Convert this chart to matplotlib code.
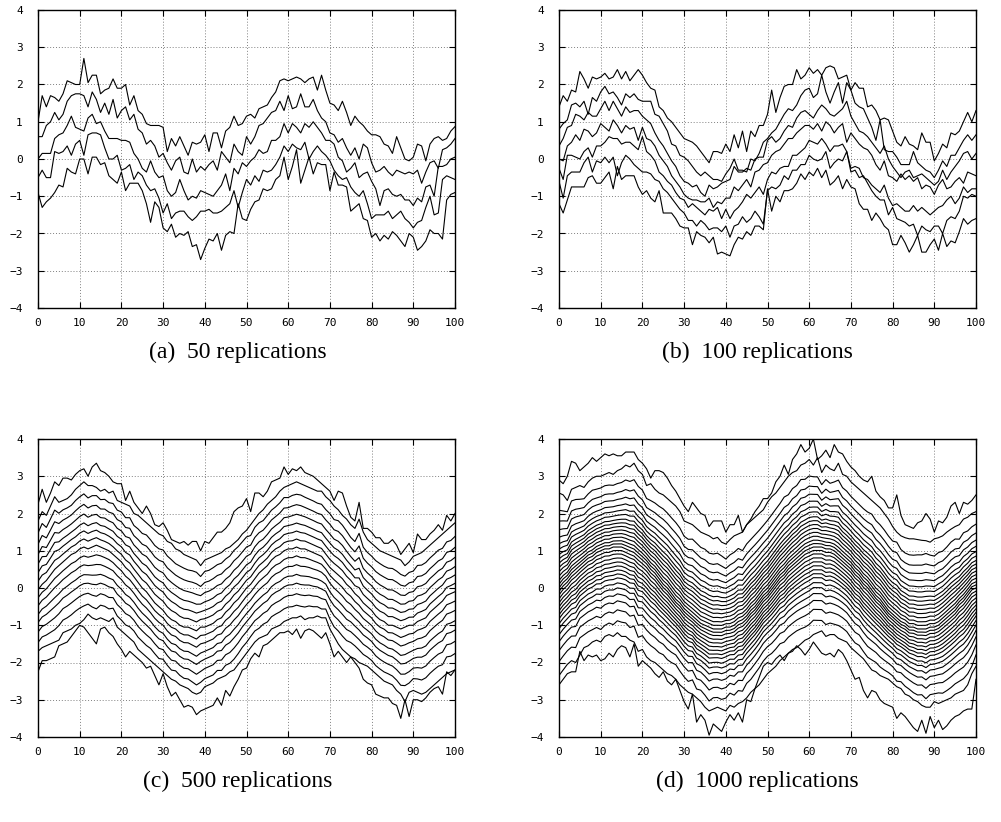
import numpy as np
import matplotlib
matplotlib.use("Agg")
from matplotlib import pyplot as plt

# ---- panel (a) 50 replications: five traces ----
a_line1 = [1.0, 1.7, 1.4, 1.7, 1.65, 1.55, 1.75, 2.1, 2.05, 2.0,
           2.0, 2.7, 2.05, 2.25, 2.25, 1.75, 1.85, 1.9, 2.15, 1.9,
           1.9, 2.0, 1.45, 1.7, 1.3, 1.2, 0.95, 0.9, 0.9, 0.9,
           0.85, 0.2, 0.55, 0.35, 0.6, 0.35, 0.1, 0.45, 0.4, 0.45,
           0.65, 0.2, 0.7, 0.7, 0.3, 0.75, 0.85, 1.15, 0.9, 0.95,
           1.15, 1.2, 1.1, 1.35, 1.4, 1.45, 1.65, 1.8, 2.1, 2.15,
           2.1, 2.15, 2.2, 2.15, 2.05, 2.15, 2.2, 1.85, 2.25, 1.85,
           1.5, 1.45, 1.3, 1.55, 1.25, 0.9, 1.15, 1.0, 0.9, 0.75,
           0.65, 0.65, 0.6, 0.4, 0.35, 0.15, 0.6, 0.3, 0.0, -0.05,
           0.05, 0.4, 0.35, -0.05, 0.4, 0.55, 0.6, 0.5, 0.55, 0.75,
           0.87]
a_line2 = [0.6, 0.6, 0.9, 1.0, 1.25, 1.05, 1.2, 1.55, 1.7, 1.75,
           1.75, 1.7, 1.4, 1.8, 1.6, 1.25, 1.5, 1.2, 1.6, 1.1,
           1.3, 1.4, 1.05, 1.2, 0.8, 0.7, 0.4, 0.5, 0.35, 0.05,
           0.15, -0.1, -0.3, -0.05, 0.05, -0.35, -0.4, 0.0, -0.35, -0.2,
           -0.3, -0.15, -0.05, -0.3, 0.2, 0.05, -0.1, 0.4, 0.2, 0.1,
           0.6, 0.4, 0.6, 0.9, 0.95, 1.1, 1.25, 1.3, 1.55, 1.3,
           1.7, 1.35, 1.4, 1.75, 1.4, 1.4, 1.6, 1.3, 1.1, 1.0,
           0.7, 0.65, 0.45, 0.55, 0.3, 0.1, 0.3, 0.0, 0.4, 0.3,
           -0.1, -0.35, -0.3, -0.2, -0.35, -0.45, -0.3, -0.35, -0.4, -0.35,
           -0.4, -0.3, -0.65, -0.35, -0.1, -0.05, -0.25, 0.25, 0.3, 0.4,
           0.55]
a_line3 = [0.0, 0.15, 0.15, 0.15, 0.55, 0.65, 0.7, 0.9, 1.15, 0.85,
           0.8, 0.75, 1.1, 1.2, 0.95, 1.0, 0.75, 0.55, 0.55, 0.55,
           0.5, 0.5, 0.45, 0.15, 0.0, -0.25, -0.35, -0.05, -0.35, -0.5,
           -0.45, -0.85, -1.0, -0.9, -0.55, -0.85, -1.1, -1.0, -1.05, -0.85,
           -0.9, -0.95, -1.0, -0.85, -0.7, -0.4, -0.85, -0.25, -0.4, -0.1,
           -0.2, -0.05, 0.05, 0.25, 0.15, 0.2, 0.5, 0.5, 0.6, 0.95,
           0.7, 0.95, 0.85, 0.7, 0.95, 0.85, 1.0, 0.85, 0.7, 0.5,
           0.5, 0.4, 0.05, -0.05, -0.35, -0.25, -0.1, -0.5, -0.4, -0.35,
           -0.6, -0.8, -1.25, -0.85, -0.8, -0.95, -1.0, -0.95, -1.1, -1.1,
           -1.25, -1.05, -1.15, -0.75, -0.7, -1.0, -0.2, -0.2, -0.15, 0.0,
           0.05]
a_line4 = [-0.5, -0.3, -0.5, -0.5, 0.2, 0.15, 0.2, 0.35, 0.1, 0.4,
           0.5, 0.1, 0.65, 0.7, 0.7, 0.65, 0.3, 0.0, 0.0, 0.1,
           -0.3, -0.25, -0.15, -0.55, -0.35, -0.45, -0.7, -0.85, -0.8, -1.05,
           -1.45, -1.2, -1.6, -1.45, -1.4, -1.4, -1.55, -1.65, -1.55, -1.4,
           -1.4, -1.35, -1.45, -1.45, -1.4, -1.3, -1.2, -0.85, -1.3, -0.9,
           -0.55, -0.7, -0.45, -0.6, -0.3, -0.35, -0.3, -0.15, 0.05, 0.35,
           0.2, 0.4, 0.3, 0.25, 0.45, 0.0, 0.2, 0.35, 0.2, 0.1,
           -0.05, -0.3, -0.45, -0.55, -0.5, -0.75, -0.9, -1.0, -0.85, -1.2,
           -1.6, -1.5, -1.5, -1.5, -1.4, -1.6, -1.5, -1.4, -1.6, -1.7,
           -1.85, -1.7, -1.65, -1.3, -1.0, -1.5, -1.45, -0.55, -0.45, -0.5,
           -0.55]
a_line5 = [-0.9, -1.3, -1.15, -1.05, -0.9, -0.7, -0.75, -0.25, -0.35, -0.4,
           0.0, 0.0, -0.4, 0.05, 0.05, -0.15, -0.1, -0.45, -0.55, -0.65,
           -0.35, -0.85, -0.65, -0.65, -0.65, -0.85, -1.2, -1.7, -1.15, -1.3,
           -1.85, -1.95, -1.75, -2.1, -2.0, -2.05, -1.95, -2.35, -2.3, -2.7,
           -2.4, -2.15, -2.2, -2.0, -2.45, -2.05, -1.95, -2.0, -1.2, -1.6,
           -1.65, -1.35, -1.15, -1.1, -0.8, -0.85, -0.8, -0.55, -0.45, 0.05,
           -0.55, -0.2, 0.25, -0.65, -0.3, 0.05, -0.4, -0.1, -0.15, -0.15,
           -0.85, -0.35, -0.7, -0.7, -0.75, -1.4, -1.3, -1.2, -1.6, -1.65,
           -2.1, -2.0, -2.2, -2.05, -2.15, -1.95, -2.05, -2.2, -2.35, -2.0,
           -2.1, -2.45, -2.35, -2.2, -1.9, -2.0, -2.0, -2.15, -1.1, -0.95,
           -0.9]

# ---- panel (b) 100 replications: seven traces ----
b_line1 = [1.4, 1.7, 1.55, 1.85, 1.8, 2.35, 2.15, 1.9, 2.2, 2.15,
           2.2, 2.3, 2.15, 2.2, 2.4, 2.15, 2.35, 2.1, 2.25, 2.4,
           2.25, 2.05, 1.9, 1.85, 1.4, 1.3, 1.1, 1.0, 0.85, 0.7,
           0.55, 0.5, 0.45, 0.35, 0.2, 0.05, -0.1, 0.2, 0.2, 0.15,
           0.4, 0.2, 0.65, 0.3, 0.75, 0.2, 0.75, 0.6, 0.9, 0.9,
           1.2, 1.85, 1.25, 1.65, 1.95, 2.0, 2.0, 2.4, 2.15, 2.25,
           2.45, 2.3, 2.4, 2.25, 2.45, 2.5, 2.45, 2.15, 2.2, 2.25,
           1.85, 2.05, 1.9, 1.9, 1.4, 1.45, 1.3, 1.05, 1.1, 1.05,
           0.75, 0.45, 0.35, 0.6, 0.4, 0.35, 0.25, 0.7, 0.45, 0.45,
           -0.05, 0.15, 0.4, 0.3, 0.7, 0.65, 0.75, 1.0, 1.25, 1.0,
           1.3]
b_line2 = [0.8, 0.95, 1.05, 1.45, 1.5, 1.4, 1.55, 1.2, 1.65, 1.55,
           1.8, 1.95, 1.75, 1.8, 1.65, 1.45, 1.75, 1.65, 1.75, 1.6,
           1.55, 1.55, 1.55, 1.2, 1.15, 0.95, 0.75, 0.4, 0.35, 0.1,
           0.05, -0.05, -0.2, -0.35, -0.45, -0.35, -0.45, -0.55, -0.55, -0.6,
           -0.4, -0.25, 0.0, -0.3, -0.3, -0.35, 0.0, -0.05, 0.15, 0.45,
           0.55, 0.7, 0.8, 1.0, 1.2, 1.35, 1.3, 1.45, 1.7, 1.85,
           1.9, 1.65, 1.75, 2.25, 1.8, 1.5, 1.8, 2.05, 1.5, 2.05,
           1.85, 1.5, 1.4, 1.35, 1.1, 0.85, 0.5, 1.05, 0.25, 0.2,
           0.2, 0.05, -0.15, -0.15, -0.15, 0.2, -0.1, -0.2, -0.3, -0.35,
           -0.5, -0.3, -0.05, -0.2, 0.1, 0.1, 0.3, 0.5, 0.65, 0.5,
           0.65]
b_line3 = [0.35, 0.55, 0.85, 0.9, 1.2, 1.15, 1.05, 1.25, 1.15, 1.15,
           1.35, 1.55, 1.3, 1.55, 1.35, 1.15, 1.4, 1.25, 1.3, 1.3,
           1.15, 1.05, 0.95, 0.7, 0.5, 0.35, 0.15, -0.05, -0.2, -0.45,
           -0.6, -0.65, -0.75, -0.7, -0.9, -1.0, -0.7, -0.8, -0.75, -0.65,
           -0.6, -0.55, -0.2, -0.35, -0.35, -0.25, -0.3, 0.0, 0.05, 0.05,
           0.5, 0.6, 0.45, 0.55, 0.75, 0.9, 0.85, 1.1, 1.25, 1.3,
           1.2, 1.1, 1.3, 1.45, 1.35, 1.2, 1.15, 1.25, 1.35, 1.55,
           1.15, 0.95, 0.75, 0.7, 0.6, 0.45, 0.3, 0.15, 0.35, 0.0,
           -0.2, -0.35, -0.5, -0.35, -0.3, -0.5, -0.45, -0.4, -0.5, -0.6,
           -0.7, -0.6, -0.3, -0.55, -0.35, -0.2, -0.05, 0.15, 0.2, 0.0,
           0.15]
b_line4 = [0.0, -0.05, 0.35, 0.45, 0.65, 0.5, 0.8, 0.75, 0.6, 0.7,
           0.95, 0.85, 0.75, 1.05, 0.9, 0.7, 0.9, 0.8, 0.85, 0.5,
           0.85, 0.55, 0.5, 0.35, 0.1, -0.05, -0.2, -0.45, -0.6, -0.75,
           -0.95, -1.05, -1.1, -1.1, -1.15, -1.15, -1.05, -1.3, -1.15, -1.2,
           -1.05, -1.05, -0.75, -0.85, -0.7, -0.55, -0.75, -0.35, -0.3, -0.15,
           -0.1, 0.1, 0.2, 0.25, 0.4, 0.55, 0.55, 0.7, 0.8, 0.9,
           0.9, 0.8, 0.95, 0.75, 1.0, 0.9, 0.7, 0.85, 0.95, 0.45,
           0.7, 0.55, 0.4, 0.3, 0.25, 0.1, -0.15, -0.3, -0.05, -0.45,
           -0.5, -0.6, -0.4, -0.55, -0.45, -0.6, -0.5, -0.8, -0.7, -0.75,
           -0.95, -0.7, -0.55, -0.8, -0.75, -0.6, -0.5, -0.65, -0.35, -0.4,
           -0.45]
b_line5 = [-0.25, -0.55, 0.1, 0.1, 0.05, 0.0, 0.2, 0.3, 0.05, 0.35,
           0.35, 0.45, 0.6, 0.55, 0.55, 0.4, 0.45, 0.45, 0.35, 0.25,
           0.6, 0.2, 0.1, -0.05, -0.35, -0.45, -0.6, -0.7, -0.9, -1.05,
           -1.1, -1.3, -1.2, -1.3, -1.4, -1.5, -1.35, -1.4, -1.3, -1.6,
           -1.35, -1.6, -1.4, -1.3, -1.15, -0.95, -1.05, -0.9, -0.75, -0.95,
           -0.55, -0.35, -0.4, -0.25, -0.2, -0.2, 0.1, 0.1, 0.2, 0.3,
           0.5, 0.45, 0.4, 0.55, 0.4, 0.2, 0.35, 0.35, 0.4, 0.2,
           -0.25, -0.2, -0.25, -0.5, -0.55, -0.7, -0.8, -0.9, -0.7, -1.05,
           -1.25, -1.2, -1.3, -1.4, -1.4, -1.25, -1.4, -1.3, -1.4, -1.5,
           -1.4, -1.3, -1.25, -1.1, -1.0, -1.2, -1.05, -0.75, -0.9, -0.8,
           -0.8]
b_line6 = [-0.6, -1.05, -0.45, -0.35, -0.35, -0.35, -0.1, 0.05, -0.35, -0.05,
           -0.1, 0.05, -0.1, 0.05, -0.45, -0.1, 0.1, 0.0, -0.15, -0.25,
           -0.35, -0.35, -0.4, -0.55, -0.6, -0.8, -0.9, -1.05, -1.2, -1.35,
           -1.45, -1.65, -1.65, -1.8, -1.65, -1.75, -1.9, -1.85, -1.85, -1.95,
           -1.8, -2.1, -1.8, -1.75, -1.55, -1.7, -1.6, -1.4, -1.55, -1.75,
           -0.85, -0.75, -0.8, -0.7, -0.45, -0.55, -0.3, -0.3, -0.15, -0.15,
           0.1, 0.0, -0.05, 0.0, 0.2, -0.25, -0.1, 0.0, -0.05, 0.2,
           -0.35, -0.3, -0.5, -0.45, -0.65, -0.85, -1.0, -1.1, -1.1, -1.5,
           -1.3, -1.6, -1.65, -1.7, -1.8, -1.75, -2.05, -1.8, -1.9, -1.95,
           -1.8, -1.8, -2.0, -1.65, -1.55, -1.6, -1.4, -1.0, -1.05, -0.95,
           -1.0]
b_line7 = [-1.2, -1.45, -1.1, -0.75, -0.75, -0.75, -0.75, -0.5, -0.45, -0.65,
           -0.65, -0.5, -0.35, -0.8, -0.2, -0.55, -0.45, -0.45, -0.45, -0.75,
           -0.95, -0.85, -1.05, -1.15, -0.85, -1.45, -1.45, -1.45, -1.6, -1.8,
           -1.85, -1.85, -2.3, -1.95, -2.05, -2.1, -2.25, -2.1, -2.55, -2.5,
           -2.55, -2.6, -2.3, -2.1, -2.15, -1.95, -2.05, -1.8, -1.8, -1.9,
           -0.8, -1.4, -1.0, -1.15, -0.85, -0.85, -0.8, -0.65, -0.4, -0.55,
           -0.35, -0.45, -0.25, -0.5, -0.3, -0.7, -0.6, -0.45, -0.8, -0.55,
           -0.75, -0.8, -1.2, -1.35, -1.35, -1.65, -1.45, -1.6, -1.8, -1.9,
           -2.3, -2.3, -2.05, -2.25, -2.5, -2.3, -2.05, -2.5, -2.5, -2.3,
           -2.15, -2.45, -2.0, -2.35, -2.2, -2.25, -1.95, -1.6, -1.75, -1.65,
           -1.6]

# ---- panel (c) 500 replications: two outer traces each side, middle trace ----
c_top = [2.25, 2.65, 2.3, 2.55, 2.85, 2.75, 2.95, 2.95, 2.9, 3.05,
         3.15, 3.2, 3.0, 3.25, 3.35, 3.15, 3.1, 3.0, 2.85, 2.8,
         2.8, 2.35, 2.6, 2.3, 2.15, 2.0, 2.2, 2.0, 1.7, 1.65,
         1.75, 1.55, 1.3, 1.25, 1.2, 1.25, 1.15, 1.25, 1.25, 1.0,
         1.25, 1.2, 1.35, 1.5, 1.5, 1.6, 1.75, 2.05, 2.15, 2.2,
         2.4, 2.05, 2.55, 2.55, 2.45, 2.6, 2.85, 2.9, 2.95, 3.25,
         3.05, 3.2, 3.15, 3.25, 3.1, 3.05, 3.0, 2.9, 2.8, 2.7,
         2.6, 2.35, 2.6, 2.55, 2.2, 1.9, 1.8, 2.3, 1.6, 1.6,
         1.5, 1.35, 1.35, 1.2, 1.2, 1.3, 1.15, 0.9, 1.05, 1.2,
         0.95, 1.45, 1.3, 1.3, 1.45, 1.55, 1.7, 1.55, 1.95, 1.8,
         2.0]
c_top2 = [1.8, 2.05, 1.95, 2.2, 2.45, 2.3, 2.35, 2.4, 2.5, 2.65,
          2.75, 2.85, 2.75, 2.75, 2.7, 2.6, 2.65, 2.55, 2.6, 2.35,
          2.3, 2.25, 2.2, 2.0, 1.95, 1.85, 1.75, 1.65, 1.55, 1.45,
          1.4, 1.25, 1.2, 1.05, 1.0, 0.9, 0.85, 0.8, 0.75, 0.6,
          0.75, 0.8, 0.85, 0.9, 0.95, 1.05, 1.1, 1.2, 1.3, 1.45,
          1.55, 1.7, 1.85, 2.0, 2.1, 2.25, 2.35, 2.45, 2.6, 2.7,
          2.75, 2.8, 2.85, 2.8, 2.75, 2.7, 2.65, 2.6, 2.6, 2.45,
          2.35, 2.2, 2.1, 1.95, 1.85, 1.7, 1.6, 1.85, 1.5, 1.3,
          1.2, 1.1, 1.0, 0.95, 0.9, 0.85, 0.8, 0.75, 0.6, 0.7,
          0.85, 0.9, 0.95, 1.05, 1.15, 1.25, 1.35, 1.45, 1.55, 1.65,
          1.75]
c_mid = [-0.05, 0.1, 0.2, 0.35, 0.5, 0.6, 0.7, 0.8, 0.9, 0.95,
         1.05, 1.1, 1.05, 1.1, 1.15, 1.1, 1.05, 1.0, 0.9, 0.8,
         0.7, 0.55, 0.45, 0.3, 0.15, 0.0, -0.1, -0.25, -0.4, -0.5,
         -0.6, -0.75, -0.85, -0.9, -1.0, -1.05, -1.05, -1.1, -1.15, -1.05,
         -1.05, -1.0, -0.95, -0.85, -0.8, -0.65, -0.55, -0.4, -0.3, -0.15,
         0.0, 0.1, 0.25, 0.4, 0.5, 0.6, 0.75, 0.85, 0.9, 1.0,
         1.05, 1.05, 1.1, 1.05, 1.05, 1.0, 0.95, 0.9, 0.85, 0.7,
         0.55, 0.45, 0.35, 0.25, 0.1, 0.0, -0.15, -0.25, -0.4, -0.5,
         -0.6, -0.75, -0.85, -0.9, -1.0, -1.0, -1.05, -1.1, -1.05, -1.0,
         -1.0, -0.9, -0.85, -0.8, -0.65, -0.55, -0.45, -0.35, -0.2, -0.15,
         -0.1]
c_bot2 = [-1.7, -1.6, -1.55, -1.5, -1.45, -1.4, -1.2, -1.15, -1.1, -1.0,
          -0.95, -0.85, -0.7, -0.8, -0.85, -0.8, -0.85, -0.9, -0.8, -1.05,
          -1.15, -1.25, -1.35, -1.45, -1.65, -1.75, -1.85, -1.95, -2.05, -2.15,
          -2.25, -2.35, -2.45, -2.5, -2.6, -2.65, -2.7, -2.8, -2.85, -2.8,
          -2.65, -2.6, -2.55, -2.45, -2.4, -2.35, -2.25, -2.2, -2.05, -1.9,
          -1.75, -1.6, -1.45, -1.35, -1.3, -1.25, -1.1, -1.05, -1.0, -0.9,
          -0.85, -0.8, -0.8, -0.75, -0.85, -0.8, -0.8, -0.75, -0.8, -0.8,
          -1.1, -1.3, -1.5, -1.65, -1.75, -1.85, -1.9, -2.0, -2.05, -2.1,
          -2.2, -2.3, -2.4, -2.5, -2.55, -2.6, -2.75, -2.85, -3.05, -2.8,
          -2.75, -2.8, -2.85, -2.8, -2.7, -2.6, -2.5, -2.4, -2.3, -2.25,
          -2.2]
c_bot = [-2.25, -1.95, -1.95, -1.9, -1.85, -1.55, -1.5, -1.45, -1.3, -1.15,
         -1.0, -1.05, -1.2, -1.35, -1.5, -1.1, -1.05, -1.2, -1.3, -1.5,
         -1.65, -1.85, -1.7, -1.8, -1.9, -2.0, -2.15, -2.1, -2.35, -2.6,
         -2.3, -2.65, -2.9, -2.8, -3.0, -3.2, -3.15, -3.2, -3.4, -3.3,
         -3.25, -3.2, -3.15, -2.95, -3.15, -2.75, -2.9, -2.65, -2.45, -2.2,
         -2.15, -1.9, -1.75, -1.85, -1.55, -1.5, -1.4, -1.3, -1.2, -1.2,
         -1.15, -1.25, -1.1, -1.35, -1.15, -1.1, -1.15, -1.25, -1.35, -1.2,
         -1.5, -1.85, -1.7, -1.85, -2.0, -1.85, -2.0, -2.15, -2.45, -2.55,
         -2.6, -2.85, -2.9, -2.95, -2.95, -3.1, -3.15, -3.5, -3.0, -3.45,
         -3.0, -3.0, -3.05, -2.95, -2.8, -2.7, -2.65, -2.85, -2.25, -2.35,
         -2.2]
# where each of the 17 traces sits between middle (0) and outer (+-1) trace
c_levels = [1.0, 0.8, 0.66, 0.53, 0.41, 0.3, 0.2, 0.1, 0.0,
            -0.1, -0.2, -0.31, -0.41, -0.53, -0.66, -0.78, -1.0]

# ---- panel (d) 1000 replications ----
d_top = [2.9, 2.8, 3.0, 3.4, 3.35, 3.15, 3.25, 3.35, 3.5, 3.4,
         3.5, 3.6, 3.55, 3.6, 3.55, 3.55, 3.65, 3.65, 3.65, 3.45,
         3.35, 3.2, 2.95, 3.15, 3.15, 3.1, 2.95, 2.75, 2.6, 2.4,
         2.2, 2.05, 2.3, 2.15, 2.0, 1.95, 1.65, 1.8, 1.8, 1.8,
         1.5, 1.7, 1.7, 1.95, 1.5, 1.7, 1.85, 2.05, 2.2, 2.4,
         2.4, 2.55, 2.85, 3.0, 3.3, 3.05, 3.45, 3.6, 3.85, 3.65,
         3.75, 4.0, 3.45, 3.55, 3.7, 3.5, 3.85, 3.65, 3.6, 3.4,
         3.25, 3.15, 3.0, 2.9, 2.85, 3.0, 2.6, 2.45, 2.35, 2.15,
         2.15, 2.5, 1.95, 1.7, 1.65, 1.6, 1.75, 1.8, 2.0, 1.85,
         1.5, 1.8, 1.75, 1.9, 2.2, 2.3, 2.0, 2.3, 2.25, 2.35,
         2.5]
d_top2 = [2.55, 2.5, 2.35, 2.65, 2.7, 2.75, 2.7, 2.85, 2.95, 3.0,
          3.0, 3.05, 3.1, 3.05, 3.15, 3.2, 3.3, 3.25, 3.35, 3.15,
          3.05, 2.75, 2.8, 2.65, 2.55, 2.5, 2.4, 2.3, 2.2, 2.05,
          1.8, 1.75, 1.7, 1.6, 1.5, 1.45, 1.4, 1.32, 1.36, 1.23,
          1.18, 1.3, 1.4, 1.45, 1.5, 1.7, 1.8, 1.9, 2.0, 2.1,
          2.3, 2.45, 2.55, 2.7, 2.85, 3.0, 3.1, 3.15, 3.3, 3.35,
          3.45, 3.3, 3.5, 3.1, 3.3, 3.2, 3.15, 3.35, 3.05, 3.0,
          2.85, 2.75, 2.65, 2.55, 2.45, 2.35, 2.25, 2.15, 2.0, 1.85,
          1.65, 1.5, 1.4, 1.35, 1.32, 1.32, 1.3, 1.28, 1.27, 1.23,
          1.32, 1.35, 1.4, 1.5, 1.58, 1.65, 1.7, 1.85, 1.9, 2.0,
          2.05]
d_mid = [0.0, 0.15, 0.25, 0.4, 0.5, 0.6, 0.7, 0.8, 0.85, 0.95,
         1.0, 1.05, 1.05, 1.1, 1.1, 1.1, 1.05, 1.0, 0.95, 0.85,
         0.75, 0.65, 0.5, 0.4, 0.25, 0.1, 0.0, -0.15, -0.3, -0.4,
         -0.55, -0.65, -0.75, -0.85, -0.95, -1.0, -1.05, -1.1, -1.1, -1.1,
         -1.05, -1.05, -1.0, -0.9, -0.85, -0.75, -0.6, -0.5, -0.35, -0.2,
         -0.1, 0.05, 0.2, 0.35, 0.45, 0.6, 0.7, 0.8, 0.9, 1.0,
         1.05, 1.1, 1.1, 1.1, 1.05, 1.05, 1.0, 0.9, 0.8, 0.7,
         0.6, 0.45, 0.35, 0.2, 0.1, -0.05, -0.2, -0.3, -0.45, -0.6,
         -0.7, -0.8, -0.9, -0.95, -1.05, -1.05, -1.1, -1.1, -1.1, -1.05,
         -1.05, -1.0, -0.9, -0.8, -0.7, -0.6, -0.45, -0.35, -0.2, -0.05,
         0.0]
d_bot2 = [-2.35, -2.2, -2.05, -1.95, -2.0, -1.8, -1.6, -1.55, -1.45, -1.4,
          -1.45, -1.3, -1.25, -1.3, -1.2, -1.3, -1.3, -1.4, -1.45, -1.7,
          -1.65, -1.85, -1.95, -2.0, -2.1, -2.2, -2.3, -2.35, -2.45, -2.6,
          -2.7, -2.8, -2.85, -2.95, -3.05, -3.2, -3.3, -3.25, -3.2, -3.25,
          -3.3, -3.15, -3.2, -3.1, -3.05, -2.95, -2.8, -2.7, -2.6, -2.45,
          -2.3, -2.2, -2.1, -1.95, -1.85, -1.75, -1.65, -1.6, -1.5, -1.4,
          -1.35, -1.25, -1.2, -1.15, -1.3, -1.25, -1.25, -1.35, -1.4, -1.45,
          -1.6, -1.7, -1.8, -1.9, -2.05, -2.2, -2.25, -2.35, -2.4, -2.45,
          -2.55, -2.65, -2.7, -2.85, -2.9, -3.0, -3.05, -3.15, -3.2, -3.2,
          -3.05, -3.1, -3.05, -3.0, -2.95, -2.85, -2.8, -2.75, -2.6, -2.3,
          -2.1]
d_bot = [-2.6, -2.45, -2.3, -2.25, -2.25, -1.7, -1.95, -1.8, -1.85, -1.8,
         -1.95, -1.9, -1.75, -1.85, -1.65, -1.55, -1.6, -1.85, -1.5, -2.1,
         -1.95, -2.05, -2.15, -2.3, -2.4, -2.25, -2.5, -2.6, -2.45, -2.75,
         -3.05, -3.25, -2.85, -3.6, -3.4, -3.55, -3.95, -3.65, -3.75, -3.85,
         -3.6, -3.4, -3.55, -3.35, -3.6, -3.0, -3.05, -2.7, -2.4, -2.1,
         -2.0, -2.05, -1.9, -1.8, -1.95, -1.75, -1.7, -1.55, -1.65, -1.8,
         -1.65, -1.45, -1.6, -1.75, -1.8, -1.75, -1.85, -1.65, -1.75, -1.95,
         -2.2, -2.45, -2.4, -2.75, -2.95, -2.75, -2.8, -3.0, -3.1, -3.15,
         -3.2, -3.5, -3.35, -3.45, -3.6, -3.75, -3.85, -3.55, -3.9, -3.45,
         -3.75, -3.55, -3.8, -3.7, -3.55, -3.45, -3.4, -3.3, -3.25, -3.25,
         -2.45]
d_levels = [1.0, 0.88, 0.72, 0.62, 0.54, 0.47, 0.41, 0.36, 0.31, 0.27, 0.23,
            0.19, 0.15, 0.11, 0.07, 0.035, 0.0, -0.035, -0.07, -0.11, -0.15,
            -0.19, -0.23, -0.27, -0.31, -0.36, -0.41, -0.47, -0.54, -0.63,
            -0.74, -0.87, -1.0]

captions = ["(a)  50 replications", "(b)  100 replications",
            "(c)  500 replications", "(d)  1000 replications"]

OUTER_MIX = 0.3  # how much of the outer trace's wiggle the inner ones carry


def band_lines(top, top2, mid, bot2, bot, levels):
    # outer traces drawn as read; inner ones sit between middle and 2nd traces
    n = min(len(top), len(top2), len(mid), len(bot2), len(bot))
    top, top2, mid = np.array(top[:n]), np.array(top2[:n]), np.array(mid[:n])
    bot, bot2 = np.array(bot[:n]), np.array(bot2[:n])
    up2, lo2 = levels[1], -levels[-2]
    up_env = (1 - OUTER_MIX) * top2 + OUTER_MIX * (mid + up2 * (top - mid))
    lo_env = (1 - OUTER_MIX) * bot2 + OUTER_MIX * (mid + lo2 * (bot - mid))
    out = []
    for lev in levels:
        if lev >= 1.0:
            out.append(top)
        elif lev <= -1.0:
            out.append(bot)
        elif lev == up2:
            out.append(top2)
        elif -lev == lo2:
            out.append(bot2)
        elif lev >= 0:
            out.append(mid + lev / up2 * (up_env - mid))
        else:
            out.append(mid + (-lev) / lo2 * (lo_env - mid))
    return out


def style_axes(ax):
    ax.set_xlim(0, 100)
    ax.set_ylim(-4, 4)
    ax.set_xticks(range(0, 101, 10))
    ax.set_yticks(range(-4, 5))
    ax.grid(True, color="#808080", linestyle=(0, (1, 2)), linewidth=0.7)
    ax.tick_params(direction="in", top=True, right=True, length=4,
                   width=0.8, labelsize=8)
    ax.tick_params(axis="x", pad=7)
    ax.tick_params(axis="y", pad=11)
    for lab in ax.get_xticklabels() + ax.get_yticklabels():
        lab.set_family("DejaVu Sans Mono")
    for s in ax.spines.values():
        s.set_linewidth(1.0)
        s.set_color("black")


def make_figure():
    fig = plt.figure(figsize=(10.01, 8.22), dpi=100)
    w, h = 417 / 1001, 298 / 822
    rects = [(38 / 1001, 1 - 308 / 822), (559 / 1001, 1 - 308 / 822),
             (38 / 1001, 1 - 737 / 822), (559 / 1001, 1 - 737 / 822)]
    panels = [
        [a_line1, a_line2, a_line3, a_line4, a_line5],
        [b_line1, b_line2, b_line3, b_line4, b_line5, b_line6, b_line7],
        band_lines(c_top, c_top2, c_mid, c_bot2, c_bot, c_levels),
        band_lines(d_top, d_top2, d_mid, d_bot2, d_bot, d_levels),
    ]
    cap_pos = [(238, 352), (757, 352), (238, 781), (757, 781)]

    for (l, b), lines, cap, (cx, cy) in zip(rects, panels, captions, cap_pos):
        ax = fig.add_axes([l, b, w, h])
        for y in lines:
            ax.plot(np.arange(len(y)), y, color="black", linewidth=0.8)
        style_axes(ax)
        fig.text(cx / 1001, 1 - cy / 822, cap, ha="center", va="center",
                 fontsize=17, family="Liberation Serif")

    plt.savefig("out.png", dpi=100)


if __name__ == "__main__":
    make_figure()
